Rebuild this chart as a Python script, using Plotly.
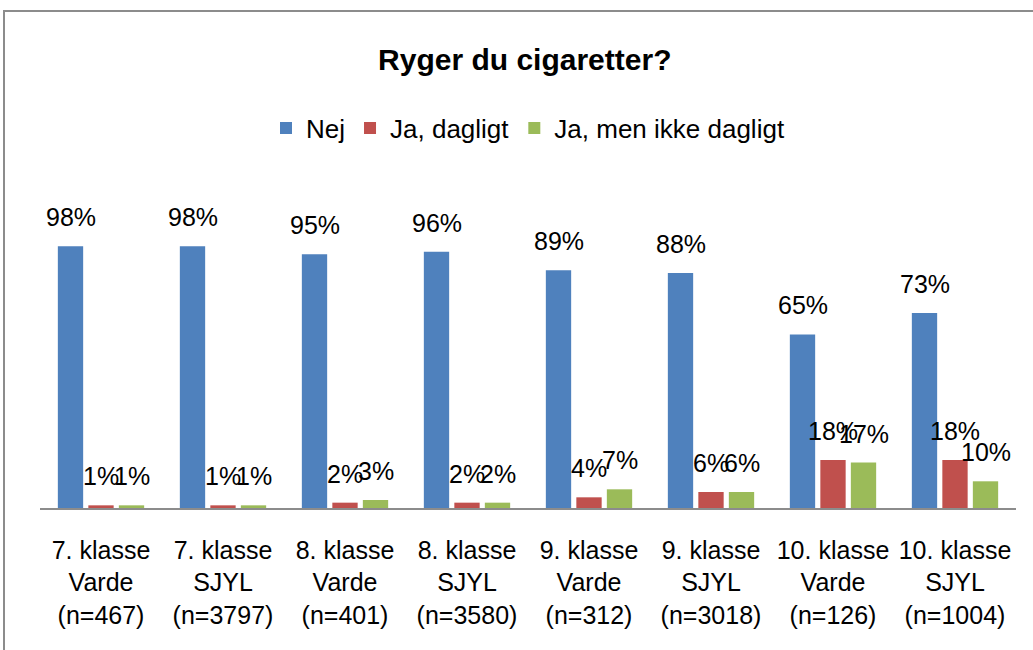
import plotly.graph_objects as go

categories = ["7. klasse<br>Varde<br>(n=467)", "7. klasse<br>SJYL<br>(n=3797)",
              "8. klasse<br>Varde<br>(n=401)", "8. klasse<br>SJYL<br>(n=3580)",
              "9. klasse<br>Varde<br>(n=312)", "9. klasse<br>SJYL<br>(n=3018)",
              "10. klasse<br>Varde<br>(n=126)", "10. klasse<br>SJYL<br>(n=1004)"]
series_names = ["Nej", "Ja, dagligt", "Ja, men ikke dagligt"]
nej = [98, 98, 95, 96, 89, 88, 65, 73]
ja_dagligt = [1, 1, 2, 2, 4, 6, 18, 18]
ja_ikke_dagligt = [1, 1, 3, 2, 7, 6, 17, 10]
colors = ["#4F81BD", "#C0504D", "#9BBB59"]

FONT = "Liberation Sans"
W, H = 1033, 650
ML, MR, MT, MB = 40, 17, 241, 142
PLOT_H = H - MT - MB
BARGAP, GROUPGAP = 0.25, 0.17

fig = go.Figure()
all_series = [nej, ja_dagligt, ja_ikke_dagligt]
for name, vals, col in zip(series_names, all_series, colors):
    fig.add_trace(go.Bar(x=categories, y=vals, name=name, marker_color=col,
                         marker_line_width=0))

# data labels centered above each bar
plot_w = W - ML - MR
slot = plot_w / len(categories) * (1 - BARGAP) / len(all_series)
annotations = []
for i, vals in enumerate(all_series):
    for c, v in zip(categories, vals):
        annotations.append(dict(x=c, y=v, text=f"{v}%", showarrow=False,
                                xref="x", yref="y", yanchor="bottom",
                                xshift=(i - 1) * slot, yshift=13,
                                font=dict(family=FONT, size=25, color="#000")))

fig.update_layout(
    width=W, height=H,
    margin=dict(l=ML, r=MR, t=MT, b=MB, autoexpand=False),
    paper_bgcolor="white", plot_bgcolor="white",
    barmode="group", bargap=BARGAP, bargroupgap=GROUPGAP,
    title=dict(text="<b>Ryger du cigaretter?</b>", x=0.508, xanchor="center",
               y=1 - 59 / H, yanchor="middle",
               font=dict(family=FONT, size=30, color="#000")),
    legend=dict(orientation="h", x=0.5, xanchor="center", y=(H - MB - 128) / PLOT_H,
                yanchor="middle", font=dict(family=FONT, size=26, color="#000"),
                bgcolor="rgba(0,0,0,0)"),
    annotations=annotations,
    font=dict(family=FONT, size=25, color="#000"),
    showlegend=True,
    shapes=[dict(type="rect", xref="paper", yref="paper",
                 x0=(4 - ML) / plot_w, x1=1.05, y0=-0.7, y1=(H - MB - 11) / PLOT_H,
                 line=dict(color="#8C8C8C", width=2), layer="below")],
)
fig.update_xaxes(showline=True, linecolor="#8C8C8C", linewidth=1.5, showgrid=False,
                 ticks="", ticklabelstandoff=19, automargin=False,
                 tickfont=dict(family=FONT, size=25, color="#000"))
fig.update_yaxes(range=[0, 100], visible=False, showgrid=False, automargin=False)

fig.write_html("out.html", config={"displayModeBar": False},
               post_script="document.body.style.margin='0';document.body.style.overflow='hidden';")
